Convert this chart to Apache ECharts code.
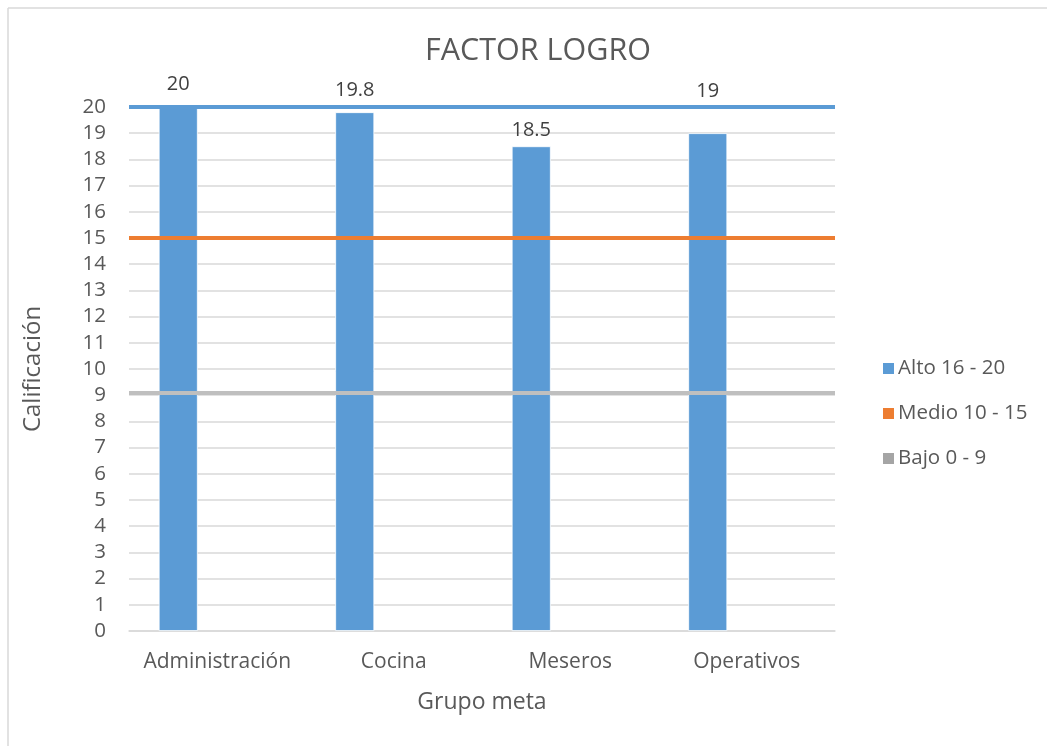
<!DOCTYPE html>
<html>
<head>
<meta charset="utf-8">
<script src="https://cdn.jsdelivr.net/npm/echarts@6/dist/echarts.min.js"></script>
<style>html,body{margin:0;padding:0;background:#fff}#c{width:1047px;height:746px}</style>
</head>
<body>
<div id="c"></div>
<script>
const categories = ['Administración', 'Cocina', 'Meseros', 'Operativos'];
const seriesNames = ['Alto 16 - 20', 'Medio 10 - 15', 'Bajo 0 - 9'];
const altoValues = [20, 19.8, 18.5, 19];
const medioValues = [null, null, null, null];
const bajoValues = [null, null, null, null];
const levelLines = [20, 15, 9.1];
const yTicks = [0, 1, 2, 3, 4, 5, 6, 7, 8, 9, 10, 11, 12, 13, 14, 15, 16, 17, 18, 19, 20];

const colors = ['#5b9bd5', '#ed7d31', '#a5a5a5'];
const lineColors = ['#5b9bd5', '#ed7d31', '#bfbfbf'];
const FONT = '"Open Sans", Lato, sans-serif';
const TXT = '#595959';
const labelDist = [13, 12, 6, 32];

const chart = echarts.init(document.getElementById('c'));
const valuesList = [altoValues, medioValues, bajoValues];
const series = valuesList.map((vals, i) => ({
  name: seriesNames[i],
  type: 'bar',
  barWidth: 39,
  barGap: '0%',
  itemStyle: { color: colors[i], borderColor: '#ffffff', borderWidth: 0.8 },
  data: vals.map((v, j) => ({
    value: v,
    label: { show: v != null, position: 'top', distance: labelDist[j], color: '#404040', fontSize: 20, fontFamily: FONT }
  })),
  markLine: {
    symbol: 'none',
    silent: true,
    label: { show: false },
    lineStyle: { color: lineColors[i], width: 4, type: 'solid' },
    data: [{ yAxis: levelLines[i] }]
  },
  z: i === 0 ? 2 : 3
}));

chart.setOption({
  animation: false,
  textStyle: { fontFamily: FONT },
  title: {
    text: 'FACTOR LOGRO',
    left: 533, top: 31, textAlign: 'center',
    textStyle: { fontSize: 30.5, fontWeight: 'normal', color: TXT, fontFamily: FONT }
  },
  legend: {
    orient: 'vertical',
    left: 876, top: 353,
    itemWidth: 13, itemHeight: 13, itemGap: 24,
    icon: 'rect',
    textStyle: { fontSize: 20.5, color: TXT, fontFamily: FONT, padding: [0, 0, 0, -2] },
    data: seriesNames
  },
  grid: { left: 129, right: 212, top: 107, bottom: 115 },
  xAxis: {
    type: 'category',
    data: categories,
    name: 'Grupo meta',
    nameLocation: 'middle',
    nameGap: 60,
    nameTextStyle: { fontSize: 23, color: TXT, fontFamily: FONT },
    axisLine: { lineStyle: { color: '#d9d9d9', width: 1.5 } },
    axisTick: { show: false },
    axisLabel: { interval: 0, fontSize: 21, color: TXT, margin: 21, fontFamily: FONT }
  },
  yAxis: {
    type: 'value',
    min: yTicks[0], max: yTicks[yTicks.length - 1], interval: 1,
    name: 'Calificación',
    nameLocation: 'middle',
    nameGap: 84,
    nameTextStyle: { fontSize: 24, color: TXT, fontFamily: FONT },
    axisLine: { show: false },
    axisTick: { show: false },
    axisLabel: { fontSize: 20.5, color: TXT, margin: 23, fontFamily: FONT },
    splitLine: { lineStyle: { color: '#d9d9d9', width: 1.5 } }
  },
  graphic: [
    { type: 'line', shape: { x1: 8, y1: 8, x2: 1047, y2: 8 }, style: { stroke: '#d9d9d9', lineWidth: 1.5 } },
    { type: 'line', shape: { x1: 8, y1: 8, x2: 8, y2: 746 }, style: { stroke: '#d9d9d9', lineWidth: 1.5 } }
  ],
  series: series
});
</script>
</body>
</html>
